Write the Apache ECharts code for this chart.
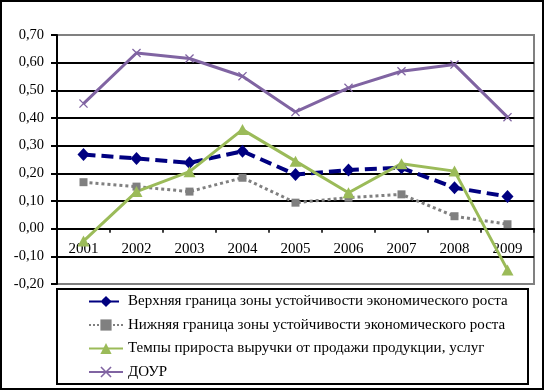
<!DOCTYPE html>
<html>
<head>
<meta charset="utf-8">
<script src="https://cdn.jsdelivr.net/npm/echarts@6/dist/echarts.min.js"></script>
<style>
html,body{margin:0;padding:0;background:#fff;}
#chart{width:545px;height:391px;}
</style>
</head>
<body>
<div id="chart"></div>
<script>
const categories = ['2001','2002','2003','2004','2005','2006','2007','2008','2009'];
const yTicks = [-0.2,-0.1,0,0.1,0.2,0.3,0.4,0.5,0.6,0.7];
const seriesNames = [
  'Верхняя граница зоны устойчивости экономического роста',
  'Нижняя граница зоны устойчивости экономического роста',
  'Темпы прироста выручки от продажи продукции, услуг',
  'ДОУР'
];
const upperBound = [0.268,0.254,0.238,0.280,0.196,0.212,0.220,0.148,0.116];
const lowerBound = [0.168,0.152,0.134,0.184,0.094,0.112,0.124,0.045,0.016];
const revenueGrowth = [-0.045,0.134,0.206,0.358,0.244,0.130,0.235,0.208,-0.149];
const dour = [0.452,0.635,0.615,0.551,0.422,0.509,0.569,0.593,0.403];

const FONT = "'Liberation Serif','Times New Roman',serif";
const xSym = 'path://M0,1L1,0L5,4L9,0L10,1L6,5L10,9L9,10L5,6L1,10L0,9L4,5Z';

const GRID = {left:57,right:11,top:35,bottom:107};
const plotH = 391 - GRID.top - GRID.bottom;
const yMin = yTicks[0], yMax = yTicks[yTicks.length-1];
const zeroOffset = -((0 - yMin)/(yMax - yMin))*plotH;

const splitColors = yTicks.map((t,i) => (i===0 || i===yTicks.length-1) ? '#808080' : '#000000');

const chart = echarts.init(document.getElementById('chart'), null, {renderer:'canvas'});
chart.setOption({
  animation:false,
  backgroundColor:'#ffffff',
  textStyle:{fontFamily:FONT},
  grid:Object.assign({show:true,borderColor:'#808080',borderWidth:2,backgroundColor:'transparent'},GRID),
  xAxis:{
    type:'category',
    data:categories,
    boundaryGap:true,
    position:'bottom',
    offset:zeroOffset,
    axisLine:{onZero:false,lineStyle:{color:'#000',width:2}},
    axisTick:{show:true,length:4,lineStyle:{color:'#000',width:1.5}},
    axisLabel:{color:'#000',fontFamily:FONT,fontSize:15,margin:13},
    splitLine:{show:false}
  },
  yAxis:{
    type:'value',
    min:yMin,
    max:yMax,
    interval:0.1,
    axisLine:{show:true,lineStyle:{color:'#000',width:2}},
    axisTick:{show:true,length:6,lineStyle:{color:'#000',width:2}},
    axisLabel:{color:'#000',fontFamily:FONT,fontSize:14.5,margin:13,
      formatter:v=>v.toFixed(2).replace('.',',')},
    splitLine:{show:true,lineStyle:{color:splitColors,width:2}}
  },
  legend:{
    orient:'vertical',
    left:88,
    top:294,
    padding:0,
    itemWidth:34,
    itemHeight:14,
    itemGap:8.5,
    textStyle:{color:'#000',fontFamily:FONT,fontSize:15,lineHeight:15},
    data:seriesNames
  },
  graphic:[
    {type:'rect',shape:{x:1,y:1,width:542,height:388},style:{fill:null,stroke:'#000',lineWidth:2},silent:true,z:100},
    {type:'rect',shape:{x:57,y:289,width:471,height:95},style:{fill:null,stroke:'#000',lineWidth:2},silent:true,z:100}
  ],
  series:[
    {name:seriesNames[0],type:'line',data:upperBound,
      lineStyle:{color:'#000080',width:4,type:[12,6]},
      itemStyle:{color:'#000080'},
      symbol:'diamond',symbolSize:[12,13],showSymbol:true},
    {name:seriesNames[1],type:'line',data:lowerBound,
      lineStyle:{color:'#808080',width:3,type:'dotted'},
      itemStyle:{color:'#808080'},
      symbol:'rect',symbolSize:8},
    {name:seriesNames[2],type:'line',data:revenueGrowth,
      lineStyle:{color:'#9BBB59',width:3},
      itemStyle:{color:'#9BBB59'},
      symbol:'triangle',symbolSize:[12,11]},
    {name:seriesNames[3],type:'line',data:dour,
      lineStyle:{color:'#8064A2',width:3},
      itemStyle:{color:'#8064A2'},
      symbol:xSym,symbolSize:9}
  ]
});
</script>
</body>
</html>
